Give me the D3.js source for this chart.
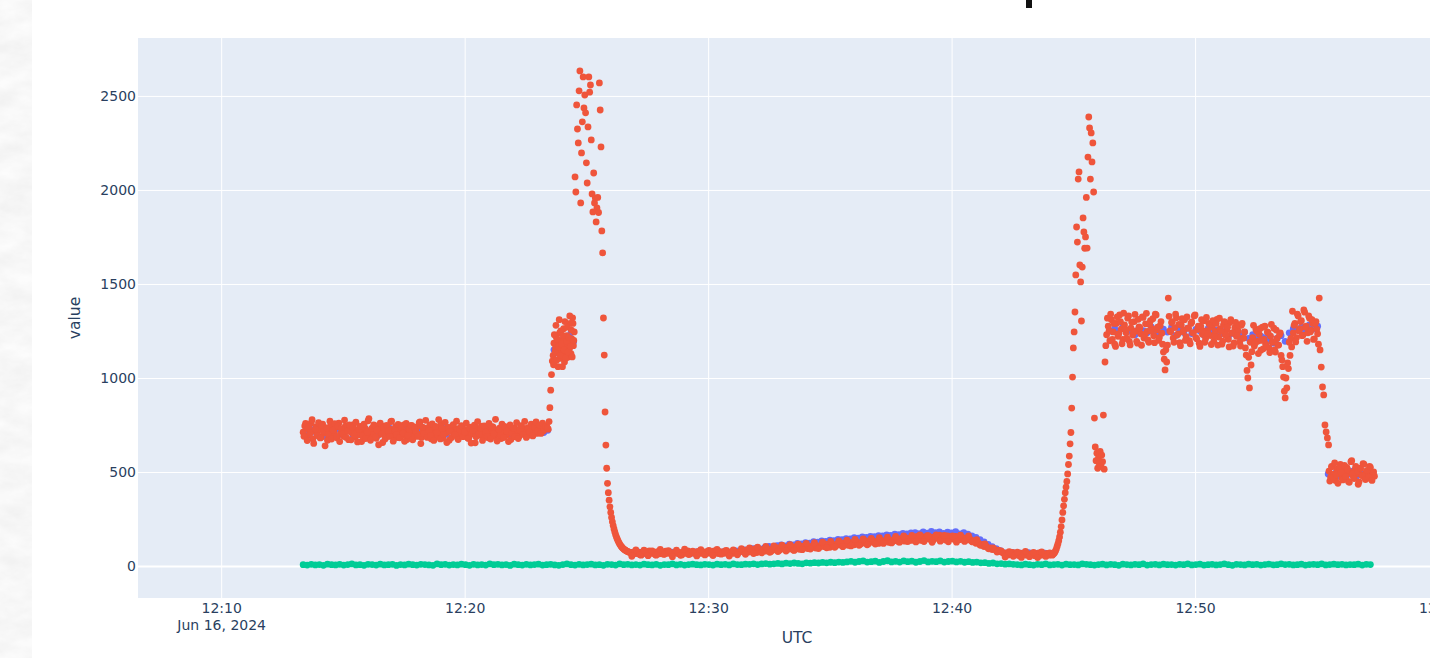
<!DOCTYPE html>
<html>
<head>
<meta charset="utf-8">
<script src="https://cdn.jsdelivr.net/npm/d3@7"></script>
<style>
  html, body { margin: 0; padding: 0; background: #ffffff; overflow: hidden; }
  svg { display: block; }
</style>
</head>
<body>
<svg id="chart" width="1430" height="658"></svg>
<script>
// Readings are stored per run of samples: start = seconds after 12:00:00 UTC on Jun 16 2024,
// step = sampling interval in seconds, values = the readings in that run.

const xTickTimes = ["12:10", "12:20", "12:30", "12:40", "12:50", "13:00"];
const xDomainTimes = ["12:06:35", "13:00:43"];
const yTickValues = [0, 500, 1000, 1500, 2000, 2500];
const yDomain = [-170, 2808];

// ---- red trace ----
const redIdle = { start: 802, step: 4, values: [
  712, 745, 688, 730, 702, 761, 675, 719, 740, 698, 726, 684, 755, 707, 733, 669, 721, 748, 694, 712,
  738, 681, 760, 703, 727, 690, 744, 716, 672, 735, 709, 752, 686, 724, 698, 741, 662, 718, 733, 705,
  772, 690, 728, 711, 746, 679, 735, 700, 725, 657, 744, 714, 689, 731, 768, 698, 720, 742, 683, 709,
  736, 694, 751, 716, 673, 729, 705, 747, 688, 722, 740, 700, 766, 684, 718, 733, 695, 711, 749, 676,
  724, 702, 739, 690, 714, 757, 680, 727, 708, 734, 669, 720, 745, 697, 712, 731, 686, 706, 741, 693,
  725, 712, 680, 738, 701, 719, 655, 733, 696, 710, 744, 688, 716, 729, 682, 707, 723, 738, 691, 714,
  700, 733, 678, 719, 742, 694, 708, 727, 673, 716, 735, 698, 722, 689, 744, 710, 731, 704, 718, 696,
  737, 712, 726, 748, 705, 730, 722, 740, 718, 732, 745, 728 ] };
const redIdleB = { start: 804, step: 4, values: [
  690, 758, 667, 741, 709, 778, 652, 728, 694, 763, 681, 747, 716, 639, 735, 700, 770, 675, 722, 757,
  688, 744, 662, 731, 705, 776, 684, 719, 750, 671, 738, 697, 765, 660, 726, 743, 691, 754, 678, 712,
  784, 669, 733, 751, 686, 722, 645, 760, 703, 736, 676, 748, 718, 690, 771, 664, 729, 699, 753, 682,
  740, 707, 663, 758, 694, 726, 748, 671, 735, 714, 689, 762, 651, 738, 705, 775, 684, 720, 693, 756,
  668, 742, 711, 779, 676, 730, 699, 764, 657, 737, 716, 683, 752, 700, 770, 673, 725, 746, 688, 713,
  760, 679, 734, 654, 722, 749, 687, 768, 702, 731, 668, 745, 712, 690, 759, 675, 741, 704, 780, 665,
  727, 695, 754, 683, 738, 717, 662, 750, 706, 733, 688, 763, 678, 724, 747, 700, 769, 684, 736, 712,
  755, 692, 740, 766, 718, 749, 705, 760, 727, 744, 733 ] };
const redRise = { start: 1408, step: 2, values: [768, 842, 935, 1018, 1090] };
const redShelf = { start: 1418, step: 2, values: [
  1120, 1185, 1090, 1160, 1215, 1135, 1060, 1178, 1240, 1105, 1150, 1198, 1128, 1262, 1085, 1170,
  1143, 1225, 1110, 1192, 1155, 1290, 1130, 1208, 1320, 1172, 1245 ] };
const redShelfB = { start: 1419, step: 2, values: [
  1070, 1230, 1140, 1280, 1095, 1205, 1165, 1310, 1120, 1250, 1180, 1060, 1225, 1150, 1300, 1105,
  1195, 1270, 1138, 1215, 1330, 1168, 1255, 1112, 1290, 1200 ] };
const redSpikeA = { start: 1472, step: 2, values: [
  2069, 1989, 2452, 2324, 2250, 2527, 2633, 1931, 2197, 2362, 2601, 2436, 2505, 2410, 2144, 2037,
  2335, 2601, 2520, 2558, 2266, 1979, 1883, 2090, 1931, 1957, 1830, 1905, 1960, 1880, 2569, 2425,
  2229, 1782, 1665 ] };
const redFall = { start: 1542, step: 2, values: [
  1319, 1122, 819, 643, 520, 440, 390, 350, 315, 285, 258, 235, 215, 197, 181, 167, 155, 144, 134,
  125, 117, 110, 104, 99, 94, 90, 87, 84, 81, 79, 77, 75, 73, 72 ] };
const redTrough = { start: 1610, step: 5, values: [
  70, 62, 78, 66, 73, 58, 75, 69, 64, 80, 67, 72, 60, 76, 65, 71, 63, 79, 68, 74,
  61, 70, 77, 66, 72, 59, 75, 68, 81, 64, 70, 73, 62, 78, 67, 71, 65, 76, 69, 74,
  63, 80, 70, 66, 77, 72, 68, 83, 71, 75, 67, 79, 73, 70, 82,
  78, 70, 86, 74, 83, 77, 91, 72, 85, 80, 88, 79, 94, 84, 77, 92, 86, 98, 82, 90,
  96, 87, 101, 90, 99, 85, 103, 94, 89, 106, 97, 108, 93, 104, 100, 112, 96, 107, 101, 115,
  104, 117, 109, 100, 119, 111, 106, 121, 113, 108, 123, 115, 110, 126, 118, 113, 129, 120, 116, 131,
  122, 134, 119, 128, 136, 124, 131, 120, 138, 127, 133, 141, 126, 137, 130, 144, 135, 128, 146, 138,
  132, 148, 140, 136,
  150, 141, 158, 146, 136, 155, 149, 162, 143, 153, 139, 157, 148, 164, 145, 152, 138, 160, 147, 155,
  143, 158, 150, 140, 154, 146,
  148, 139, 144, 130, 135, 121, 126, 112, 115, 104, 106, 95, 97, 88, 90, 82, 84, 77,
  72, 64, 70, 59, 67, 73, 61, 66, 56, 69, 63, 71, 58, 65, 60, 68, 55, 63, 70, 57, 64, 61, 67, 58, 62 ] };
const redTroughB = { start: 1612, step: 10, values: [
  52, 86, 60, 84, 55, 80, 58, 88, 62, 82, 50, 85, 57, 90, 61, 79, 54, 87, 59, 83, 56, 89, 63, 81, 53, 86, 60, 92,
  62, 96, 66, 100, 70, 104, 73, 107, 77, 111, 80, 114, 83, 117, 87, 121, 90, 124, 93, 127, 97, 131,
  100, 134, 103, 137, 107, 141, 110, 144, 113, 147, 117, 151, 120, 154, 123, 157, 127, 160, 130, 163,
  128, 165, 130, 162, 126, 166, 132, 163, 129, 160, 127, 164, 131,
  160, 128, 140, 110, 118, 92, 96, 74, 80,
  48, 76, 52, 74, 46, 78, 50, 72, 45, 75, 51, 70 ] };
const redSpikeB = { start: 2648, step: 2, values: [
  58, 62, 66, 72, 80, 90, 104, 118, 135, 155, 180, 210, 245, 285, 320, 355, 390, 420, 450, 490,
  540, 585, 650, 710, 840, 1005, 1160, 1245, 1351, 1548, 1803, 1723, 2058, 2096, 1601, 1511, 1303,
  1590, 1851, 1777, 1690, 1750, 1960, 1691, 2175, 2388, 2330, 2058, 2303, 2149, 2250, 1989, 787 ] };
const redBlob = { start: 2754, step: 2, values: [633, 560, 600, 520, 575, 545, 610, 530, 590, 555, 803, 515] };
const redPlateau = { start: 2778, step: 4, values: [
  1085, 1230, 1275, 1198, 1310, 1245, 1180, 1290, 1222, 1335, 1260, 1205, 1282, 1240, 1318, 1195,
  1265, 1228, 1300, 1250, 1185, 1272, 1235, 1325, 1212, 1288, 1248, 1190, 1305, 1262, 1225, 1340,
  1256, 1200, 1278, 1238,
  1138, 1043, 1085,
  1425,
  1250, 1295, 1212, 1268, 1320, 1235, 1188, 1282, 1246, 1310, 1220, 1265, 1198, 1290, 1240, 1330,
  1215, 1258, 1185, 1275, 1232, 1305, 1210, 1252, 1290, 1226, 1270, 1195, 1248, 1312, 1218, 1262,
  1180, 1284, 1230, 1256, 1206, 1295, 1238, 1170, 1268, 1222, 1250, 1192, 1280, 1212, 1245,
  1122, 1000, 947, 1069,
  1215, 1170, 1258, 1195, 1232, 1148, 1270, 1205, 1180, 1245, 1160, 1222, 1190, 1265, 1138, 1210,
  1175, 1240,
  1096, 1005, 894, 947, 1050, 1120,
  1165, 1240, 1290, 1215, 1330, 1262, 1305, 1228, 1350, 1275, 1240, 1318, 1255, 1290, 1208, 1300, 1235,
  1425 ] };
const redPlateauB = { start: 2780, step: 4, values: [
  1172, 1318, 1250, 1340, 1205, 1290, 1168, 1325, 1236, 1300, 1182, 1345, 1258, 1210, 1330, 1176,
  1296, 1240, 1338, 1195, 1312, 1266, 1174, 1322, 1230, 1344, 1202, 1285, 1250, 1315, 1188, 1335,
  1270, 1215, 1300,
  1180, 1100, 1150,
  1175, 1328, 1246, 1300, 1190, 1340, 1228, 1285, 1172, 1315, 1255, 1200, 1325, 1265, 1182, 1298,
  1240, 1335, 1208, 1275, 1168, 1310, 1250, 1190, 1322, 1236, 1284, 1178, 1305, 1220, 1290, 1175,
  1318, 1248, 1196, 1300, 1228, 1270, 1165, 1310, 1240, 1186, 1296, 1225, 1280, 1170, 1290, 1212,
  1160, 1040, 1110, 1190,
  1140, 1280, 1185, 1250, 1130, 1262, 1200, 1155, 1275, 1168, 1240, 1135, 1285, 1192, 1150, 1255,
  1175, 1230,
  1120, 1060, 930, 1000, 1080, 1190,
  1210, 1355, 1280, 1192, 1340, 1250, 1300, 1225, 1362, 1270, 1195, 1330, 1245, 1310, 1205, 1290,
  1260, 1180 ] };
const redDrop = { start: 3308, step: 3, values: [1149, 1058, 952, 910, 750, 713, 681, 644] };
const redTail = { start: 3330, step: 4, values: [
  505, 472, 530, 488, 455, 515, 497, 540, 468, 510, 482, 525, 450, 498, 560, 476, 512, 490, 435, 520,
  485, 545, 470, 502, 480, 530, 462, 495, 478 ] };
const redTailB = { start: 3332, step: 4, values: [
  452, 528, 470, 548, 485, 440, 520, 498, 458, 535, 476, 512, 445, 555, 490, 465, 530, 505, 448, 518,
  480, 542, 460, 508, 472, 525, 455, 500 ] };

// ---- blue trace ----
const blueIdle = { start: 805, step: 10, values: [
  712, 698, 725, 705, 731, 690, 718, 709, 727, 700, 714, 735, 696, 720, 708, 729, 702, 716, 693, 724,
  711, 733, 699, 719, 706, 728, 695, 717, 710, 730, 703, 721, 697, 713, 736, 700, 718, 707, 726, 694,
  715, 732, 701, 722, 709, 690, 727, 712, 704, 720, 731, 698, 716, 724, 706, 729, 713, 719, 725, 710, 722 ] };
const blueShelf = { start: 1420, step: 6, values: [1150, 1180, 1130, 1200, 1160, 1220, 1175, 1240, 1190] };
const blueTrough = { start: 1610, step: 10, values: [
  72, 68, 74, 66, 70, 73, 69, 75, 67, 71, 74, 70, 68, 76, 72, 69, 75, 71, 73, 70, 77, 72, 74, 78, 73, 76, 80, 77,
  86, 84, 92, 95, 91, 100, 104, 99, 108, 112, 107, 116, 113, 121, 118, 125, 122, 130, 127, 134, 131, 138,
  135, 142, 140, 146, 144, 151, 148, 155, 152, 158, 156, 162, 160, 166, 163, 170, 167, 174, 171, 176,
  178, 172, 181, 175, 184, 177, 182, 174, 180, 176, 183, 171, 178,
  170, 160, 152, 140, 128, 115, 103, 92, 82,
  70, 66, 72, 63, 68, 65, 71, 62, 67, 64, 69, 63 ] };
const bluePlateau = { start: 2792, step: 10, values: [
  1250, 1262, 1238, 1275, 1245, 1258, 1230, 1268, 1252, 1240, 1272, 1248, 1235, 1260, 1244, 1270, 1226, 1255, 1242, 1265,
  1236, 1258, 1250, 1228, 1262, 1240, 1255, 1232, 1248, 1218, 1238, 1252, 1225, 1244, 1210, 1230, 1205, 1222, 1215, 1200,
  1185, 1210, 1225, 1195, 1240, 1262, 1255, 1270, 1248, 1282, 1260, 1275 ] };
const blueTail = { start: 3328, step: 10, values: [490, 482, 500, 475, 495, 488, 505, 478, 492, 485, 498, 480] };

// ---- green trace ----
const greenAll = { start: 802, step: 10, values: [
  7, 5, 9, 6, 8, 4, 10, 7, 6, 9, 5, 8, 11, 6, 7, 4, 9, 8, 5, 10,
  6, 7, 9, 3, 8, 6, 10, 7, 5, 9, 8, 6, 4, 11, 7, 9, 5, 8, 6, 10,
  7, 4, 9, 6, 8, 5, 11, 7, 9, 6, 8, 3, 10, 7, 5, 9, 6, 8, 10, 5,
  7, 9, 6, 4, 8, 11, 7, 5, 9, 6, 8, 10, 6, 7, 4, 9, 8, 5, 11, 7,
  9, 6, 8, 5, 10, 7, 6, 9, 4, 8, 7, 11, 6, 9, 5, 8, 10, 7, 6, 9,
  8, 5, 10, 7, 9, 6, 11, 8, 7, 10,
  9, 12, 8, 11, 13, 10, 12, 14, 11, 15, 13, 16, 14, 12, 17, 15, 18, 16, 19, 17, 20, 18, 21, 19,
  22, 25, 20, 24, 27, 21, 23, 26, 19, 24, 28, 22, 25, 21, 27, 23, 26, 20, 24, 29,
  22, 25, 23, 27, 21, 24, 26, 22, 25, 20,
  23, 19, 21, 17, 18, 14, 16, 12, 13, 10, 11, 9,
  8, 6, 10, 7, 5, 9, 7, 11, 6, 8, 9, 5, 10, 7, 8, 6, 11, 9, 7, 5,
  8, 10, 6, 9, 7, 4, 10, 8, 6, 9, 7, 11, 5, 8, 9, 6, 10, 7, 8, 5,
  9, 7, 11, 6, 8, 10, 5, 7, 9, 6, 8, 11, 7, 4, 9, 8, 6, 10, 7, 9,
  5, 8, 10, 6, 7, 11, 8, 9, 6, 7, 10, 5, 8, 9, 7, 11, 6, 8, 10, 7,
  9, 6, 8, 7, 10, 5, 9, 8 ] };

const traces = [
  { name: "blue",  color: "#636EFA", runs: [blueIdle, blueShelf, blueTrough, bluePlateau, blueTail] },
  { name: "red",   color: "#EF553B", runs: [redIdle, redIdleB, redRise, redShelf, redShelfB, redSpikeA,
                                             redFall, redTrough, redTroughB, redSpikeB, redBlob,
                                             redPlateau, redPlateauB, redDrop, redTail, redTailB] },
  { name: "green", color: "#00CC96", runs: [greenAll] }
];

// ---- helpers ----
const base = Date.UTC(2024, 5, 16, 12, 0, 0);
const clock = s => { const [h, m, sec] = s.split(":").map(Number); return new Date(Date.UTC(2024, 5, 16, h, m, sec || 0)); };
const expand = runs => runs.flatMap(r => r.values.map((v, i) => ({ t: new Date(base + (r.start + i * r.step) * 1000), v })));

// ---- layout ----
const W = 1430, H = 658;
const plot = { left: 138, right: 1456, top: 38, bottom: 598 };
const FONT = "'DejaVu Sans', Verdana, sans-serif";
const TEXT = "#2a3f5f";

const x = d3.scaleUtc().domain(xDomainTimes.map(clock)).range([plot.left, plot.right]);
const y = d3.scaleLinear().domain(yDomain).range([plot.bottom, plot.top]);

const svg = d3.select("#chart");
const defs = svg.append("defs");

// marbled paper strip along the left edge
const paper = defs.append("filter").attr("id", "paper")
  .attr("x", 0).attr("y", 0).attr("width", "100%").attr("height", "100%");
paper.append("feTurbulence").attr("type", "fractalNoise")
  .attr("baseFrequency", "0.03 0.055").attr("numOctaves", 4).attr("seed", 11);
paper.append("feColorMatrix").attr("type", "matrix")
  .attr("values", "0.14 0 0 0 0.86  0.14 0 0 0 0.86  0.14 0 0 0 0.86  0 0 0 0 1");
svg.append("rect").attr("x", 0).attr("y", 0).attr("width", 32).attr("height", H)
  .attr("fill", "#eeeeee").attr("filter", "url(#paper)");

defs.append("clipPath").attr("id", "plotClip").append("rect")
  .attr("x", plot.left).attr("y", plot.top)
  .attr("width", plot.right - plot.left).attr("height", plot.bottom - plot.top);

// plot background
svg.append("rect").attr("x", plot.left).attr("y", plot.top)
  .attr("width", plot.right - plot.left).attr("height", plot.bottom - plot.top)
  .attr("fill", "#E5ECF6");

const xTicks = xTickTimes.map(clock);

// grid lines
const gridX = svg.append("g").attr("transform", `translate(0,${plot.bottom})`)
  .call(d3.axisBottom(x).tickValues(xTicks).tickSize(-(plot.bottom - plot.top)).tickFormat(""));
const gridY = svg.append("g").attr("transform", `translate(${plot.left},0)`)
  .call(d3.axisLeft(y).tickValues(yTickValues).tickSize(-(plot.right - plot.left)).tickFormat(""));
[gridX, gridY].forEach(g => {
  g.select(".domain").remove();
  g.selectAll("line").attr("stroke", "#ffffff").attr("stroke-width", 1);
});
gridY.selectAll(".tick").filter(d => d === 0).select("line").attr("stroke-width", 2);

// markers
const marks = svg.append("g").attr("clip-path", "url(#plotClip)");
traces.forEach(tr => {
  marks.append("g").attr("class", "trace-" + tr.name)
    .selectAll("circle").data(expand(tr.runs)).join("circle")
    .attr("cx", d => x(d.t)).attr("cy", d => y(d.v)).attr("r", 3.4)
    .attr("fill", tr.color);
});

// x axis labels
const xAxis = svg.append("g").attr("transform", `translate(0,${plot.bottom})`)
  .call(d3.axisBottom(x).tickValues(xTicks).tickSize(0).tickPadding(5).tickFormat(d3.utcFormat("%H:%M")));
xAxis.select(".domain").remove();
xAxis.selectAll("text").attr("font-family", FONT).attr("font-size", 14).attr("fill", TEXT);
xAxis.selectAll(".tick").filter((d, i) => i === 0).select("text")
  .append("tspan").attr("x", 0).attr("dy", "1.22em").text(d3.utcFormat("%b %-d, %Y")(xTicks[0]));

// y axis labels
const yAxis = svg.append("g").attr("transform", `translate(${plot.left},0)`)
  .call(d3.axisLeft(y).tickValues(yTickValues).tickSize(0).tickPadding(2).tickFormat(d3.format("d")));
yAxis.select(".domain").remove();
yAxis.selectAll("text").attr("font-family", FONT).attr("font-size", 14).attr("fill", TEXT);

// axis titles
svg.append("text").attr("x", (plot.left + plot.right) / 2).attr("y", 643)
  .attr("text-anchor", "middle").attr("font-family", FONT).attr("font-size", 15.5)
  .attr("fill", TEXT).text("UTC");
svg.append("text").attr("transform", `translate(80,${(plot.top + plot.bottom) / 2}) rotate(-90)`)
  .attr("text-anchor", "middle").attr("font-family", FONT).attr("font-size", 15.5)
  .attr("fill", TEXT).text("value");

// descender of the heading above the chart
svg.append("rect").attr("x", 1026).attr("y", 0).attr("width", 6).attr("height", 8).attr("fill", "#111111");
</script>
</body>
</html>
